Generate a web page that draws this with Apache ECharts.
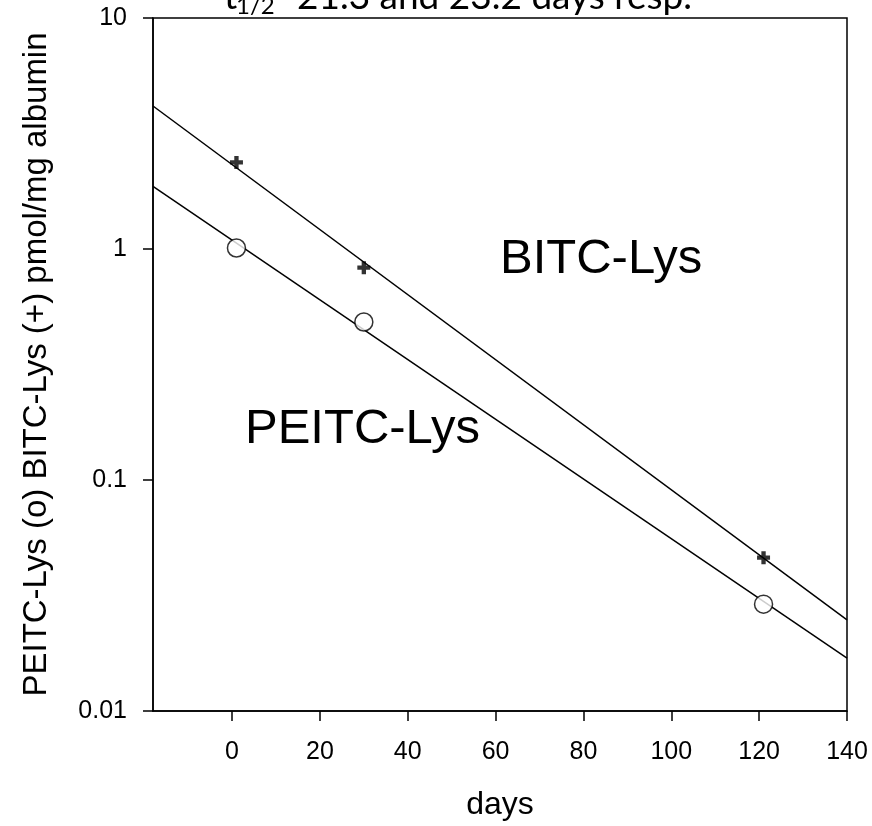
<!DOCTYPE html>
<html>
<head>
<meta charset="utf-8">
<script src="https://cdn.jsdelivr.net/npm/echarts@6/dist/echarts.min.js"></script>
<style>
  html, body { margin: 0; padding: 0; background: #fff; }
  #grafico { width: 872px; height: 826px; }
</style>
</head>
<body>
<div id="grafico"></div>
<script>
// valores
const diasAmostra = [1, 30, 121];
const bitcValores = [2.37, 0.83, 0.0461];   // (+)
const peitcValores = [1.01, 0.483, 0.029];  // (o)

// retas de ajuste (pontos extremos no dominio do eixo x)
const retaDias = [-18, 140];
const bitcReta = [4.16, 0.0248];
const peitcReta = [1.866, 0.01694];

const xTicks = [0, 20, 40, 60, 80, 100, 120, 140];
const yTickLabels = ['0.01', '0.1', '1', '10'];

const fonte = '"Liberation Sans", Arial, sans-serif';
const fonteTitulo = 'Lato, sans-serif';
const cruz = 'path://M4,0H8V4H12V8H8V12H4V8H0V4H4Z';

const chart = echarts.init(document.getElementById('grafico'));

const option = {
    backgroundColor: '#fff',
    animation: false,
    grid: {
        left: 153, top: 18, width: 694, height: 695,
        show: true, borderColor: '#000', borderWidth: 1.5, backgroundColor: 'transparent'
    },
    xAxis: {
        type: 'value',
        min: -18,
        max: 140,
        name: 'days',
        nameLocation: 'middle',
        nameGap: 78,
        nameTextStyle: { fontFamily: fonte, fontSize: 32, color: '#000' },
        axisLine: { onZero: false, lineStyle: { color: '#000', width: 1.5 } },
        axisTick: { show: true, length: 10, inside: false, customValues: xTicks, lineStyle: { color: '#000', width: 1.5 } },
        axisLabel: { customValues: xTicks, margin: 29, fontFamily: fonte, fontSize: 25, color: '#000' },
        splitLine: { show: false }
    },
    yAxis: {
        type: 'log',
        logBase: 10,
        min: 0.01,
        max: 10,
        name: 'PEITC-Lys (o) BITC-Lys (+) pmol/mg albumin',
        nameLocation: 'middle',
        nameRotate: 90,
        nameGap: 100,
        nameTextStyle: { fontFamily: fonte, fontSize: 33, color: '#000' },
        axisLine: { show: true, onZero: false, lineStyle: { color: '#000', width: 1.5 } },
        axisTick: { show: true, length: 10, inside: false, lineStyle: { color: '#000', width: 1.5 } },
        minorTick: { show: false },
        axisLabel: {
            margin: 26, fontFamily: fonte, fontSize: 25, color: '#000',
            formatter: function (v, i) { return yTickLabels[i] !== undefined ? yTickLabels[i] : ''; }
        },
        splitLine: { show: false }
    },
    graphic: [
        // titulo cortado no topo
        { type: 'text', left: 224, top: -21, style: { text: 't', fontFamily: fonteTitulo, fontSize: 37, fill: '#000' } },
        { type: 'text', left: 236, top: -6, style: { text: '1/2', fontFamily: fonteTitulo, fontSize: 24, fill: '#000' } },
        { type: 'text', left: 297, top: -21, style: { text: '21.3 and 23.2 days resp.', fontFamily: fonteTitulo, fontSize: 37, fill: '#000' } },
        // rotulos das curvas
        { type: 'text', left: 500, top: 235, style: { text: 'BITC-Lys', fontFamily: fonte, fontSize: 49, fill: '#000' } },
        { type: 'text', left: 245, top: 405, style: { text: 'PEITC-Lys', fontFamily: fonte, fontSize: 49, fill: '#000' } }
    ],
    series: [
        {
            name: 'BITC ajuste', type: 'line', symbol: 'none', silent: true,
            data: retaDias.map((d, i) => [d, bitcReta[i]]),
            lineStyle: { color: '#000', width: 1.5 }, z: 2
        },
        {
            name: 'PEITC ajuste', type: 'line', symbol: 'none', silent: true,
            data: retaDias.map((d, i) => [d, peitcReta[i]]),
            lineStyle: { color: '#000', width: 1.5 }, z: 2
        },
        {
            name: 'BITC-Lys', type: 'scatter', symbol: cruz, symbolSize: 13,
            data: diasAmostra.map((d, i) => [d, bitcValores[i]]),
            itemStyle: { color: '#000' }, z: 3
        },
        {
            name: 'PEITC-Lys', type: 'scatter', symbol: 'circle', symbolSize: 18,
            data: diasAmostra.map((d, i) => [d, peitcValores[i]]),
            itemStyle: { color: '#fff', borderColor: '#000', borderWidth: 1.5 }, z: 3
        }
    ]
};

chart.setOption(option);
</script>
</body>
</html>
